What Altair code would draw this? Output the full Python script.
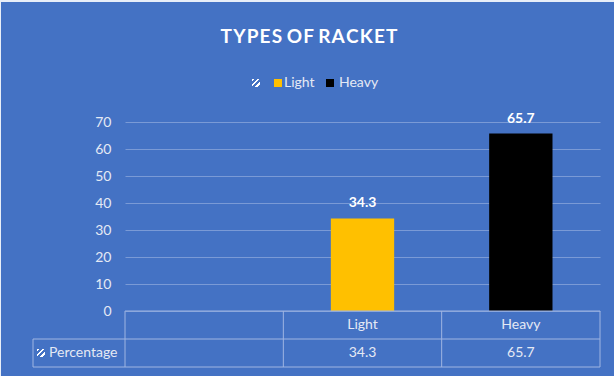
import altair as alt
import pandas as pd

categories = ["Light", "Heavy"]
values = [34.3, 65.7]
bar_colors = ["#FFC000", "#000000"]
domain_all = [" ", "Light", "Heavy"]
y_ticks = [0, 10, 20, 30, 40, 50, 60, 70]
title_text = "TYPES OF RACKET"
series_name = "Percentage"

W, H = 475, 189
FONT = "Lato"
BLUE = "#4472C4"
LINE = "#9fb5e2"
TXT = "#e4e9f4"

df = pd.DataFrame({"category": categories, "value": values,
                   "label": [f"{v:.1f}" for v in values]})

xscale = alt.Scale(domain=domain_all, paddingInner=0, paddingOuter=0)
yscale = alt.Scale(domain=[0, 70], nice=False)
yaxis = alt.Axis(values=y_ticks, title=None, domain=False, ticks=False,
                 labelOverlap=False, labelFlush=False,
                 labelFont=FONT, labelFontSize=14, labelColor=TXT, labelPadding=14,
                 gridColor=LINE, gridOpacity=0.6, gridWidth=1)

one = pd.DataFrame({"a": [0]})

# thin white page edges (top and left)
edges = pd.DataFrame({"x1": [-125, -125], "x2": [489, -124],
                      "y1": [-122, -122], "y2": [-120, 254]})
edge_rects = alt.Chart(edges).mark_rect(color="#e8eef8").encode(
    x=alt.X("x1:Q", scale=None), x2="x2:Q", y=alt.Y("y1:Q", scale=None), y2="y2:Q")

bars = alt.Chart(df).mark_bar(width={"band": 0.4}).encode(
    x=alt.X("category:N", scale=xscale, axis=None, sort=domain_all),
    y=alt.Y("value:Q", scale=yscale, axis=yaxis),
    color=alt.Color("category:N", scale=alt.Scale(domain=categories, range=bar_colors), legend=None),
)

labels = alt.Chart(df).mark_text(font=FONT, fontSize=14, fontWeight="bold", color="white",
                                 baseline="bottom", dy=-8).encode(
    x=alt.X("category:N", scale=xscale, sort=domain_all, axis=None),
    y=alt.Y("value:Q", scale=yscale, axis=yaxis),
    text="label:N")

spaced_title = " ".join("\u200a".join(w) for w in title_text.split(" "))
title = alt.Chart(one).mark_text(font=FONT, fontSize=19, fontWeight="bold", color="white",
                                 text=spaced_title).encode(
    x=alt.value(184), y=alt.value(-85))

# hatched swatch (diagonal white stripes) via a sharp-stop gradient
hatch_grad = alt.LinearGradient(
    gradient="linear", x1=0, y1=0, x2=1, y2=1,
    stops=[alt.GradientStop(offset=0.0, color="white"), alt.GradientStop(offset=0.18, color="white"),
           alt.GradientStop(offset=0.18, color=BLUE), alt.GradientStop(offset=0.32, color=BLUE),
           alt.GradientStop(offset=0.32, color="white"), alt.GradientStop(offset=0.5, color="white"),
           alt.GradientStop(offset=0.5, color=BLUE), alt.GradientStop(offset=0.64, color=BLUE),
           alt.GradientStop(offset=0.64, color="white"), alt.GradientStop(offset=0.82, color="white"),
           alt.GradientStop(offset=0.82, color=BLUE), alt.GradientStop(offset=1.0, color=BLUE)])

hatch_pos = pd.DataFrame({"hx": [131, -84], "hy": [-39, 231]})
hatches = alt.Chart(hatch_pos).mark_square(size=64, opacity=1, color=hatch_grad).encode(
    x=alt.X("hx:Q", scale=None), y=alt.Y("hy:Q", scale=None))

# legend
leg_df = pd.DataFrame({"name": categories, "color": bar_colors, "sx": [153, 205], "tx": [159, 214]})
leg_sq = alt.Chart(leg_df).mark_square(size=64, opacity=1).encode(
    x=alt.X("sx:Q", scale=None), y=alt.value(-39),
    color=alt.Color("color:N", scale=None))
leg_tx = alt.Chart(leg_df).mark_text(font=FONT, fontSize=14, color=TXT, align="left").encode(
    x=alt.X("tx:Q", scale=None), y=alt.value(-39), text="name:N")

# table lines
hl = pd.DataFrame({"x1": [0, -92, -92], "x2": [W, W, W], "yy": [189, 217, 245]})
h_rules = alt.Chart(hl).mark_rule(color=LINE, strokeWidth=1).encode(
    x=alt.X("x1:Q", scale=None), x2="x2:Q", y=alt.Y("yy:Q", scale=None))
vl = pd.DataFrame({"xx": [0, W / 3, 2 * W / 3, W, -92], "y1": [189, 189, 189, 189, 217],
                   "y2": [245, 245, 245, 245, 245]})
v_rules = alt.Chart(vl).mark_rule(color=LINE, strokeWidth=1).encode(
    x=alt.X("xx:Q", scale=None), y=alt.Y("y1:Q", scale=None), y2="y2:Q")

cat_text = alt.Chart(df).mark_text(font=FONT, fontSize=14, color=TXT).encode(
    x=alt.X("category:N", scale=xscale, sort=domain_all, axis=None), y=alt.value(203), text="category:N")
val_text = alt.Chart(df).mark_text(font=FONT, fontSize=14, color=TXT).encode(
    x=alt.X("category:N", scale=xscale, sort=domain_all, axis=None), y=alt.value(231), text="label:N")
series_text = alt.Chart(one).mark_text(font=FONT, fontSize=14, color=TXT, align="left",
                                       text=series_name).encode(
    x=alt.value(-76), y=alt.value(231))

chart = alt.layer(edge_rects, bars, labels, title, hatches, leg_sq, leg_tx, h_rules, v_rules,
                  cat_text, val_text, series_text).properties(
    width=W, height=H,
    padding={"left": 125, "top": 122, "right": 14, "bottom": 65},
    autosize="none",
    background=BLUE,
).configure_view(stroke=None)

chart.save("out.html", embed_options={"renderer": "svg", "actions": False})
